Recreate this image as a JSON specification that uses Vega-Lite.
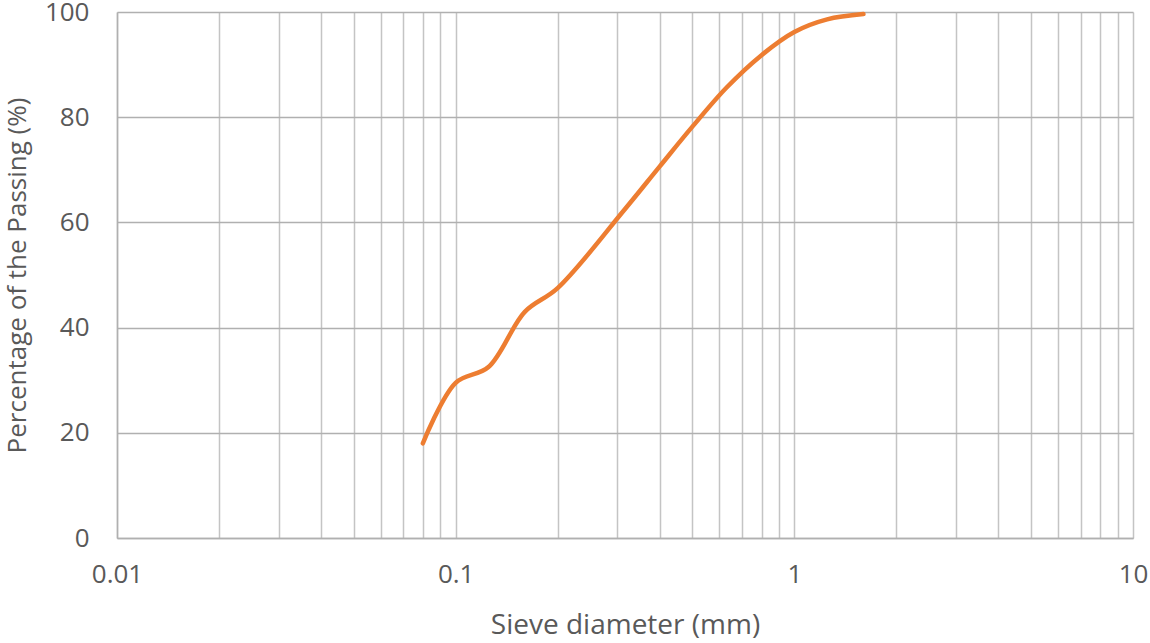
{
  "$schema": "https://vega.github.io/schema/vega-lite/v6.json",
  "width": 1016,
  "height": 526,
  "autosize": "none",
  "padding": {"left": 117, "top": 12, "right": 17, "bottom": 105},
  "background": "white",
  "config": {"view": {"stroke": null}, "font": "Open Sans"},
  "data": {"values": [
    {"d": 0.08, "p": 18},
    {"d": 0.1, "p": 29.5},
    {"d": 0.125, "p": 32.5},
    {"d": 0.16, "p": 43},
    {"d": 0.2, "p": 47.5},
    {"d": 0.315, "p": 62.4},
    {"d": 0.4, "p": 70.6},
    {"d": 0.5, "p": 78.2},
    {"d": 0.63, "p": 85.6},
    {"d": 0.8, "p": 91.8},
    {"d": 1, "p": 96.2},
    {"d": 1.25, "p": 98.6},
    {"d": 1.6, "p": 99.6}
  ]},
  "mark": {"type": "line", "color": "#ED7D31", "strokeWidth": 4.5, "interpolate": "catmull-rom", "strokeCap": "round"},
  "encoding": {
    "x": {
      "field": "d", "type": "quantitative",
      "scale": {"type": "log", "domain": [0.01, 10], "nice": false},
      "axis": {
        "title": "Sieve diameter (mm)",
        "values": [0.01,0.02,0.03,0.04,0.05,0.06,0.07,0.08,0.09,0.1,0.2,0.3,0.4,0.5,0.6,0.7,0.8,0.9,1,2,3,4,5,6,7,8,9,10],
        "format": "~g",
        "labelExpr": "indexof([0.01,0.1,1,10], datum.value) >= 0 ? datum.label : ''",
        "labelOverlap": false,
        "labelBound": false,
        "labelFlush": false,
        "grid": true,
        "gridColor": "#c4c4c4",
        "gridWidth": 1.5,
        "gridOpacity": 1,
        "ticks": false,
        "domainColor": "#b0b0b0",
        "domainWidth": 1.5,
        "labelFont": "Open Sans",
        "labelFontSize": 26,
        "labelColor": "#595959",
        "labelPadding": 23,
        "titleFont": "Open Sans",
        "titleFontSize": 28,
        "titleFontWeight": "normal",
        "titleColor": "#595959",
        "titlePadding": 24
      }
    },
    "y": {
      "field": "p", "type": "quantitative",
      "scale": {"domain": [0, 100], "nice": false},
      "axis": {
        "title": "Percentage of the Passing (%)",
        "values": [0, 20, 40, 60, 80, 100],
        "grid": true,
        "gridColor": "#b0b0b0",
        "gridWidth": 1.5,
        "gridOpacity": 1,
        "ticks": false,
        "domainColor": "#b0b0b0",
        "domainWidth": 1.5,
        "labelFont": "Open Sans",
        "labelFontSize": 26,
        "labelColor": "#595959",
        "labelPadding": 28,
        "labelBound": false,
        "labelFlush": false,
        "titleFont": "Open Sans",
        "titleFontSize": 26,
        "titleFontWeight": "normal",
        "titleColor": "#595959",
        "titlePadding": 14
      }
    }
  }
}
